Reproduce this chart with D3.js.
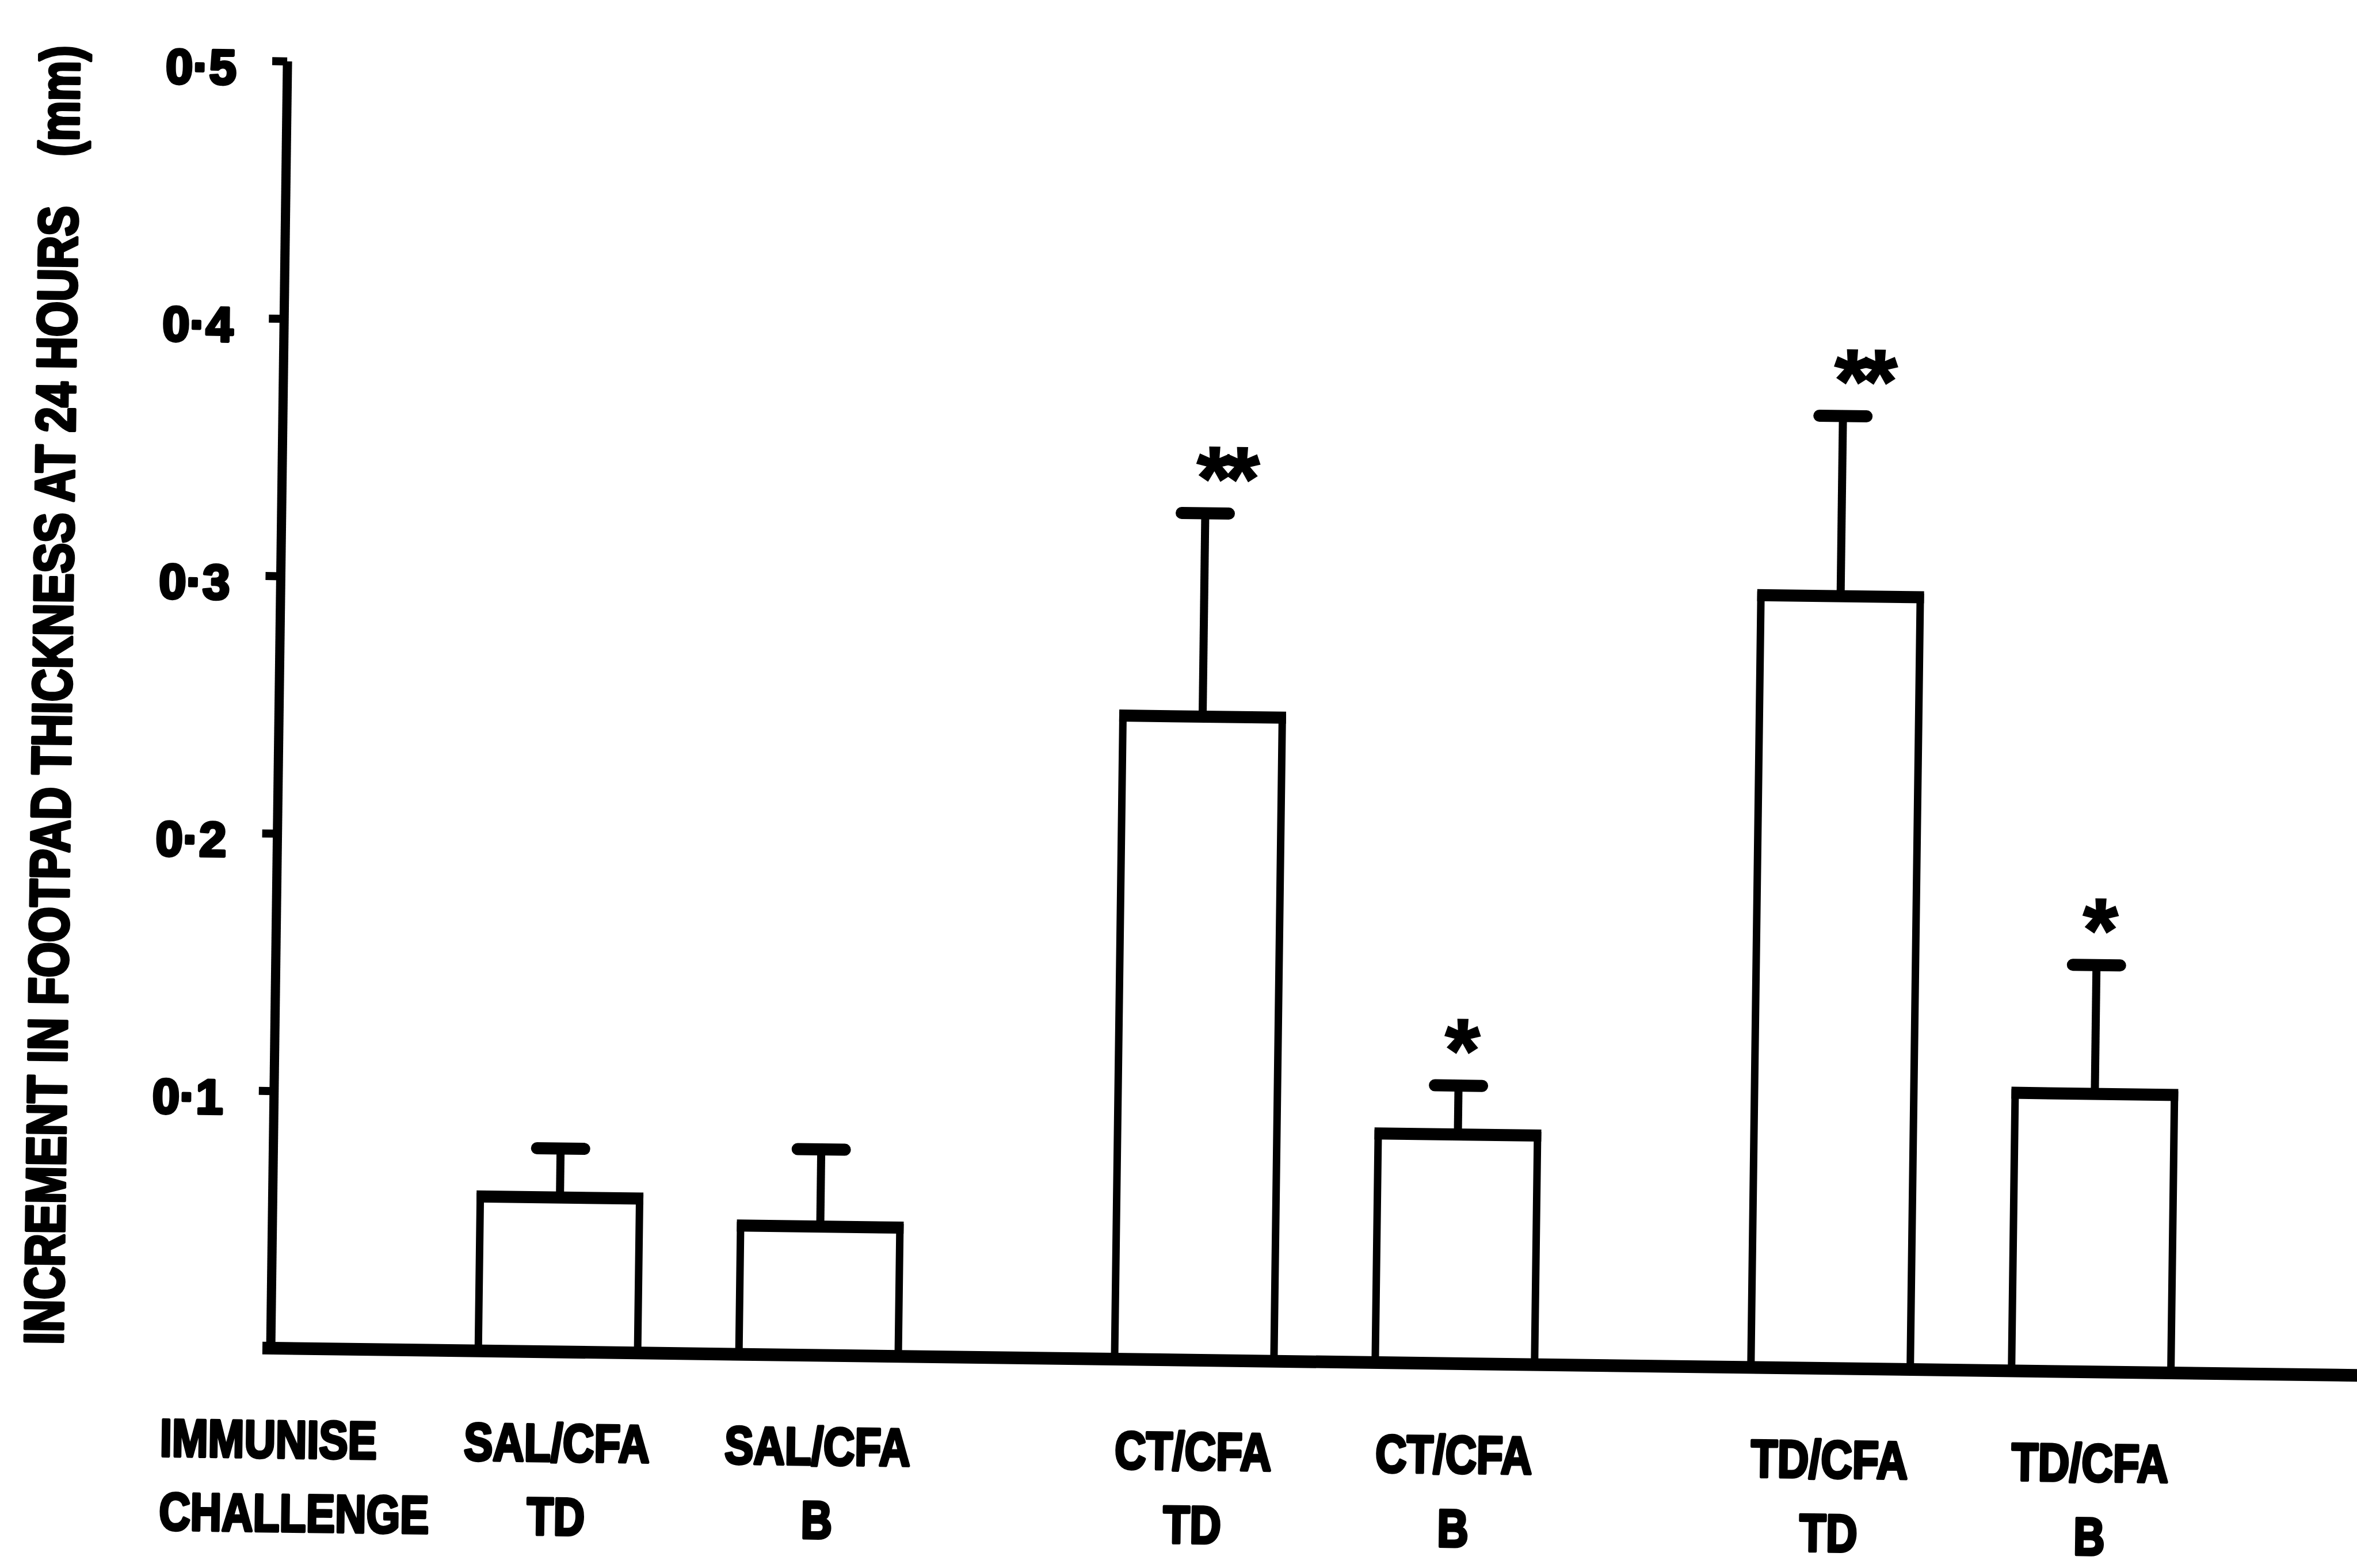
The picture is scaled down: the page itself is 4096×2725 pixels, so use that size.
<!DOCTYPE html>
<html>
<head>
<meta charset="utf-8">
<style>
  body { margin: 0; background: #fff; }
  svg { display: block; }
  text { font-family: "Liberation Sans", Arial, sans-serif; font-weight: bold; fill: #000; }
  .lbl { stroke: #000; stroke-width: 5; stroke-linejoin: round; }
</style>
</head>
<body>
<script src="https://d3js.org/d3.v7.min.js"></script>
<div id="chart"></div>
<script>

// data
var groups = ["SAL/CFA", "CT/CFA", "TD/CFA"];
var immunise = ["SAL/CFA", "SAL/CFA", "CT/CFA", "CT/CFA", "TD/CFA", "TD/CFA"];
var challenge = ["TD", "B", "TD", "B", "TD", "B"];
var means = [0.06, 0.05, 0.25, 0.089, 0.30, 0.108];
var errors = [0.019, 0.03, 0.079, 0.019, 0.07, 0.05];
var stars = ["", "", "**", "*", "**", "*"];
var yTicks = [0.1, 0.2, 0.3, 0.4, 0.5];
var yTickLabels = ["0·1", "0·2", "0·3", "0·4", "0·5"];
var yTitle = "INCREMENT IN FOOTPAD THICKNESS AT 24 HOURS";
var yUnit = "(mm)";
var rowTitles = ["IMMUNISE", "CHALLENGE"];

var bars = immunise.map(function(g, i) {
    return {group: g, chal: challenge[i], mean: means[i], err: errors[i], star: stars[i]};
});

var width = 4096, height = 2725;
var ox = 470, oy = 2343, tilt = 0.745;   // the scan is slightly rotated
var plotH = 2237, plotW = 3664;
var narrow = 0.82;

var y = d3.scaleLinear().domain([0, 0.5]).range([0, -plotH]);

var x0 = d3.scaleBand()
    .domain(groups)
    .range([0, plotW])
    .paddingInner(0.1808)
    .paddingOuter(0.247);

var x1 = d3.scaleBand()
    .domain(["TD", "B"])
    .range([0, x0.bandwidth()])
    .paddingInner(0.36)
    .paddingOuter(0.18);

var bw = x1.bandwidth();
function left(d) { return x0(d.group) + x1(d.chal); }
function cx(d) { return left(d) + bw / 2; }

var svg = d3.select("#chart").append("svg")
    .attr("width", width)
    .attr("height", height);

svg.append("rect").attr("width", width).attr("height", height).attr("fill", "#fff");

var g = svg.append("g")
    .attr("transform", "translate(" + ox + "," + oy + ") rotate(" + tilt + ")");

// bars
var sideW = 13, topW = 21;
g.selectAll(".bar")
    .data(bars)
    .join("rect")
    .attr("class", "bar")
    .attr("x", function(d) { return left(d) + sideW / 2; })
    .attr("y", function(d) { return y(d.mean); })
    .attr("width", bw - sideW)
    .attr("height", function(d) { return y(0) - y(d.mean); })
    .attr("fill", "#fff")
    .attr("stroke", "#000")
    .attr("stroke-width", sideW);

g.selectAll(".bar-top")
    .data(bars)
    .join("line")
    .attr("class", "bar-top")
    .attr("x1", function(d) { return left(d); })
    .attr("x2", function(d) { return left(d) + bw; })
    .attr("y1", function(d) { return y(d.mean); })
    .attr("y2", function(d) { return y(d.mean); })
    .attr("stroke", "#000")
    .attr("stroke-width", topW);

// error bars
g.selectAll(".err")
    .data(bars)
    .join("line")
    .attr("class", "err")
    .attr("x1", cx).attr("x2", cx)
    .attr("y1", function(d) { return y(d.mean); })
    .attr("y2", function(d) { return y(d.mean + d.err); })
    .attr("stroke", "#000")
    .attr("stroke-width", 14);

g.selectAll(".cap")
    .data(bars)
    .join("line")
    .attr("class", "cap")
    .attr("x1", function(d) { return cx(d) - 41; })
    .attr("x2", function(d) { return cx(d) + 41; })
    .attr("y1", function(d) { return y(d.mean + d.err); })
    .attr("y2", function(d) { return y(d.mean + d.err); })
    .attr("stroke", "#000")
    .attr("stroke-linecap", "round")
    .attr("stroke-width", 21);

// significance stars
g.selectAll(".star")
    .data(bars.filter(function(d) { return d.star; }))
    .join("text")
    .attr("class", "star")
    .attr("x", function(d) { return cx(d) + (d.star.length - 1) * 33; })
    .attr("y", function(d) { return y(d.mean + d.err) - 98; })
    .attr("dy", "0.58em")
    .attr("text-anchor", "middle")
    .attr("font-family", "DejaVu Sans")
    .attr("font-size", 155)
    .attr("letter-spacing", -12)
    .attr("stroke", "#000")
    .attr("stroke-width", 3)
    .text(function(d) { return d.star; });

// y axis
var yAxis = g.append("g")
    .call(d3.axisLeft(y)
        .tickValues(yTicks)
        .tickFormat(function(d, i) { return yTickLabels[i]; })
        .tickSize(26)
        .tickSizeOuter(0)
        .tickPadding(62));

yAxis.select(".domain").attr("stroke", "#000").attr("stroke-width", 16);
yAxis.selectAll(".tick line").attr("stroke", "#000").attr("stroke-width", 14);
yAxis.selectAll(".tick text")
    .attr("class", "lbl")
    .attr("font-family", "Liberation Sans")
    .attr("font-size", 85)
    .attr("dy", "0.48em")
    .attr("fill", "#000");

// baseline
g.append("line")
    .attr("x1", -14)
    .attr("x2", plotW + 60)
    .attr("y1", y(0))
    .attr("y2", y(0))
    .attr("stroke", "#000")
    .attr("stroke-width", 22);

// category rows under the bars
var rowY = [190, 318];

function condensed(sel, fs, anchor) {
    sel.append("text")
        .attr("class", "lbl")
        .attr("text-anchor", anchor)
        .attr("font-size", fs)
        .text(function(d) { return d.text; });
}

[immunise, challenge].forEach(function(row, r) {
    var cells = g.selectAll(".row" + r)
        .data(bars.map(function(d, i) { return {text: row[i], x: cx(d)}; }))
        .join("g")
        .attr("class", "row" + r)
        .attr("transform", function(d) { return "translate(" + d.x + "," + rowY[r] + ") scale(" + narrow + ",1)"; });
    condensed(cells, 92, "middle");
});

g.selectAll(".row-title")
    .data(rowTitles.map(function(t, r) { return {text: t, r: r}; }))
    .join("g")
    .attr("class", "row-title")
    .attr("transform", function(d) { return "translate(-190," + rowY[d.r] + ") scale(" + narrow + ",1)"; })
    .call(condensed, 92, "start");

// y axis title
var title = g.append("g")
    .attr("transform", "translate(-361,-1) rotate(-90) scale(" + narrow + ",1)")
    .append("text")
    .attr("class", "lbl")
    .attr("font-size", 96)
    .attr("text-anchor", "start")
    .text(yTitle);

title.append("tspan")
    .attr("dx", 105)
    .text(yUnit);

</script>
</body>
</html>
